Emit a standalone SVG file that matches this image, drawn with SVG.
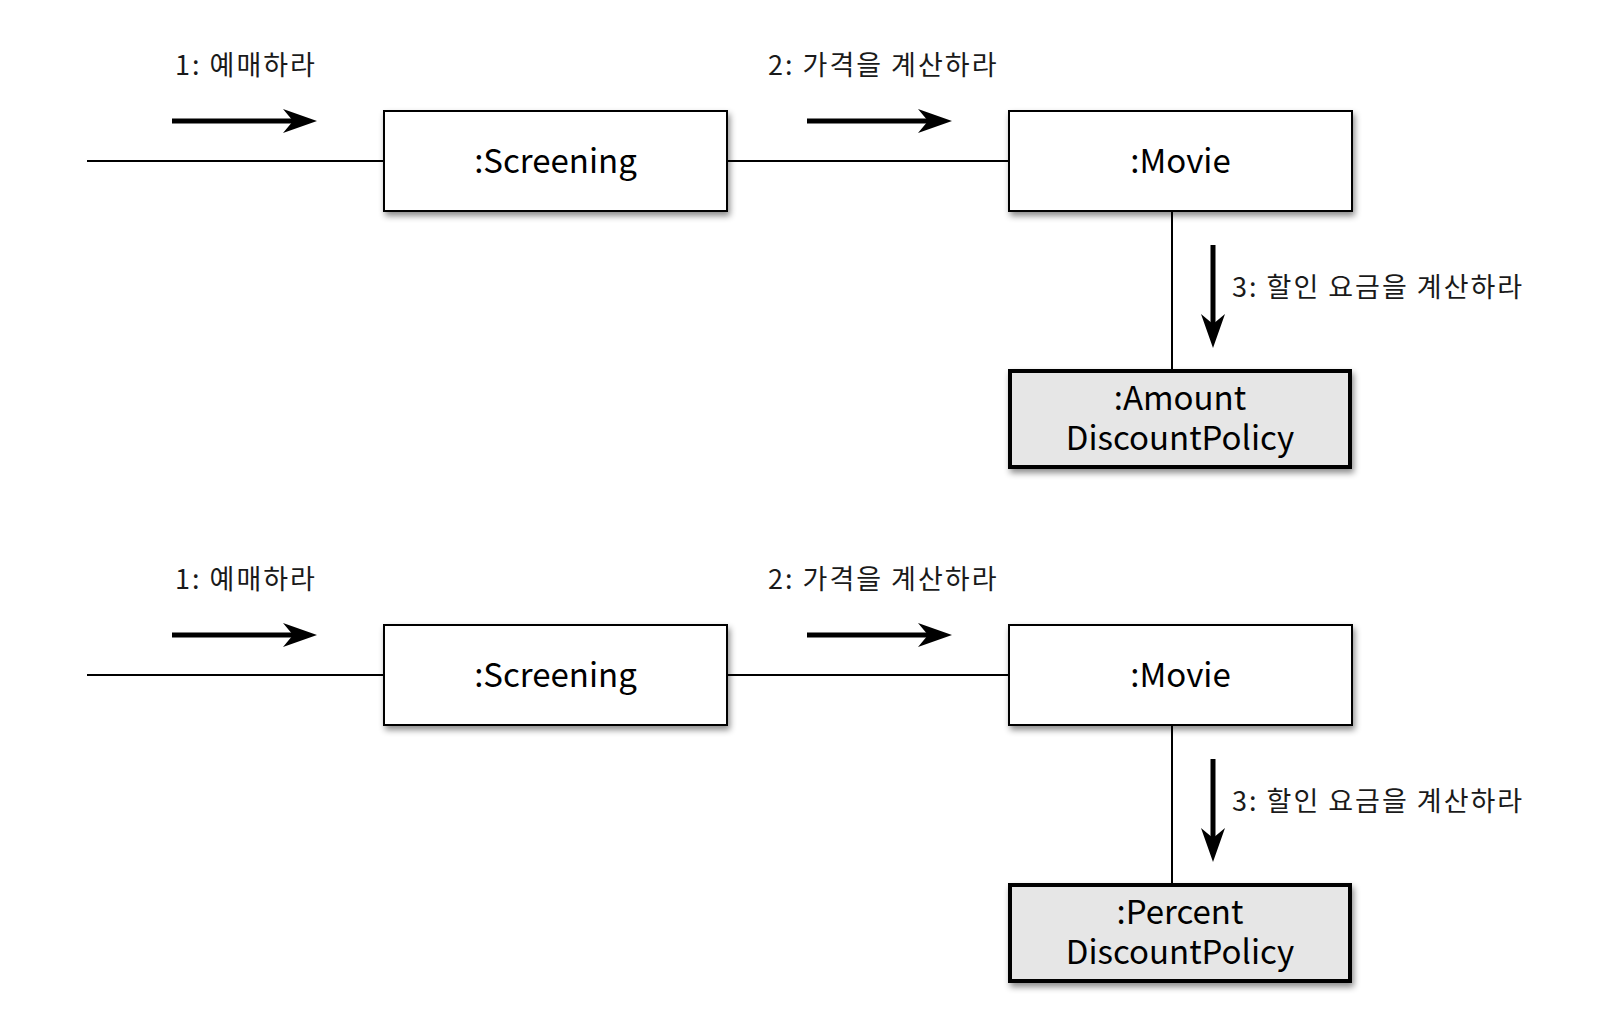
<svg xmlns="http://www.w3.org/2000/svg" width="1620" height="1036" viewBox="0 0 1620 1036">
<style>
.box{fill:#ffffff;stroke:#000000;stroke-width:2;filter:url(#shadow)}
.gbox{fill:#e6e6e6;stroke:#000000;stroke-width:4;filter:url(#shadow)}
.name{font-family:"Noto Sans CJK KR","Noto Sans",sans-serif;font-size:33px;fill:#000;text-anchor:middle}
.lbl{font-family:"Noto Sans CJK KR","Noto Sans",sans-serif;font-size:27px;letter-spacing:2px;fill:#1a1a1a}
.link{stroke:#000;stroke-width:2;fill:none}
.msg{stroke:#000;stroke-width:5;fill:none;marker-end:url(#barb)}
</style>
<defs>
<filter id="shadow" x="-10%" y="-20%" width="125%" height="150%">
<feDropShadow dx="2" dy="4" stdDeviation="3" flood-color="#000" flood-opacity="0.45"/>
</filter>
<marker id="barb" markerUnits="userSpaceOnUse" viewBox="0 0 34 24" refX="10" refY="12" markerWidth="34" markerHeight="24" orient="auto">
<path d="M0,0 L34,12 L0,24 L10,12 Z" fill="#000"/>
</marker>
</defs>
<g id="connectors">
<line class="link" x1="87" y1="161" x2="384" y2="161"/>
<line class="link" x1="727" y1="161" x2="1009" y2="161"/>
<line class="link" x1="1172" y1="211" x2="1172" y2="370"/>
<line class="msg" x1="172" y1="121" x2="293" y2="121"/>
<line class="msg" x1="807" y1="121" x2="928" y2="121"/>
<line class="msg" x1="1213" y1="245" x2="1213" y2="324"/>
<line class="link" x1="87" y1="675" x2="384" y2="675"/>
<line class="link" x1="727" y1="675" x2="1009" y2="675"/>
<line class="link" x1="1172" y1="725" x2="1172" y2="884"/>
<line class="msg" x1="172" y1="635" x2="293" y2="635"/>
<line class="msg" x1="807" y1="635" x2="928" y2="635"/>
<line class="msg" x1="1213" y1="759" x2="1213" y2="838"/>
</g>
<g id="labels">
<text class="lbl" x="175" y="75">1: 예매하라</text>
<text class="lbl" x="768" y="75">2: 가격을 계산하라</text>
<text class="lbl" x="1232" y="297">3: 할인 요금을 계산하라</text>
<text class="lbl" x="175" y="589">1: 예매하라</text>
<text class="lbl" x="768" y="589">2: 가격을 계산하라</text>
<text class="lbl" x="1232" y="811">3: 할인 요금을 계산하라</text>
</g>
<g id="screening1">
<rect class="box" x="384" y="111" width="343" height="100"/>
<text class="name" x="555.5" y="173">:Screening</text>
</g>
<g id="movie1">
<rect class="box" x="1009" y="111" width="343" height="100"/>
<text class="name" x="1180.5" y="173">:Movie</text>
</g>
<g id="amountPolicy">
<rect class="gbox" x="1010" y="371" width="340" height="96"/>
<text class="name" x="1180" y="410"><tspan x="1180" y="410">:Amount</tspan><tspan x="1180" y="450">DiscountPolicy</tspan></text>
</g>
<g id="screening2">
<rect class="box" x="384" y="625" width="343" height="100"/>
<text class="name" x="555.5" y="687">:Screening</text>
</g>
<g id="movie2">
<rect class="box" x="1009" y="625" width="343" height="100"/>
<text class="name" x="1180.5" y="687">:Movie</text>
</g>
<g id="percentPolicy">
<rect class="gbox" x="1010" y="885" width="340" height="96"/>
<text class="name" x="1180" y="924"><tspan x="1180" y="924">:Percent</tspan><tspan x="1180" y="964">DiscountPolicy</tspan></text>
</g>
</svg>
